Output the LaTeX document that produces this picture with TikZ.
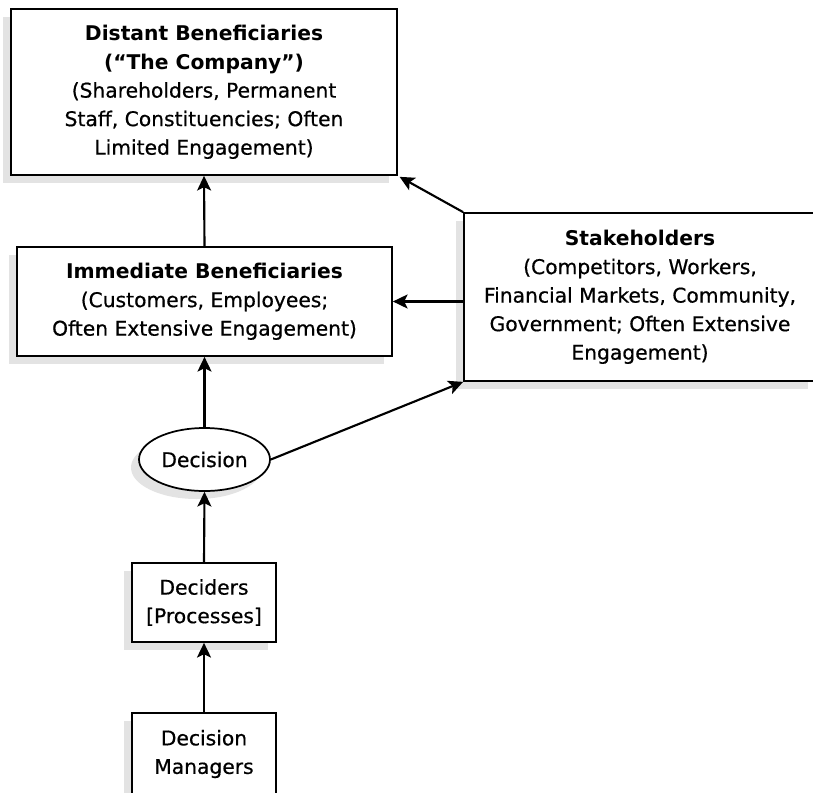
\documentclass[tikz,border=0pt]{standalone}
\usepackage{fontspec}
\setmainfont{DejaVu Sans}[UprightFeatures={FakeBold=0.6}]
\usetikzlibrary{shapes.geometric,shadows,arrows.meta}

\tikzset{
  shade box/.style={drop shadow={shadow xshift=-6pt, shadow yshift=-6pt, fill=black!11, opacity=1}},
  box/.style={draw, line width=1.3pt, fill=white, rectangle, inner sep=0pt, align=center,
    font=\fontsize{15.2}{21.4}\selectfont, shade box},
  oval/.style={draw, line width=1.3pt, fill=white, ellipse, inner sep=0pt, align=center,
    font=\fontsize{15.2}{21.4}\selectfont, shade box},
  link/.style={line width=1.6pt, -{Stealth[length=11pt, width=10.5pt, inset=2.5pt]}}
}

\begin{document}
\begin{tikzpicture}[x=0.75pt, y=-0.75pt]
  \clip (0,0) rectangle (813,792);
  \fill[white] (0,0) rectangle (813,792);

  \node[box, minimum width=386*0.75pt, minimum height=166*0.75pt] (dist) at (204,92)
    {\textbf{Distant Beneficiaries}\\\textbf{(“The Company”)}\\(Shareholders, Permanent\\Staff, Constituencies; Often\\Limited Engagement)};
  \node[box, minimum width=375*0.75pt, minimum height=109*0.75pt] (imm) at (204.5,301.5)
    {\textbf{Immediate Beneficiaries}\\(Customers, Employees;\\Often Extensive Engagement)};
  \node[box, minimum width=352*0.75pt, minimum height=168*0.75pt] (stake) at (640,297)
    {\textbf{Stakeholders}\\(Competitors, Workers,\\Financial Markets, Community,\\Government; Often Extensive\\Engagement)};
  \node[oval, minimum width=131*0.75pt, minimum height=63*0.75pt] (dec) at (204.5,459.5) {Decision};
  \node[box, minimum width=144*0.75pt, minimum height=79*0.75pt] (decd) at (204,602.5)
    {Deciders\\{[Processes]}};
  \node[box, minimum width=144*0.75pt, minimum height=82*0.75pt] (mgr) at (204,754)
    {Decision\\Managers};

  \draw[link] (imm.north) -- (dist.south);
  \draw[link, shorten >=1.5pt] (stake.north west) -- (dist.south east);
  \draw[link] (stake.west |- imm.east) -- (imm.east);
  \draw[link] (dec.east) -- (stake.south west);
  \draw[link] (dec.north) -- (imm.south);
  \draw[link] (decd.north) -- (dec.south);
  \draw[link] (mgr.north) -- (decd.south);
\end{tikzpicture}
\end{document}
